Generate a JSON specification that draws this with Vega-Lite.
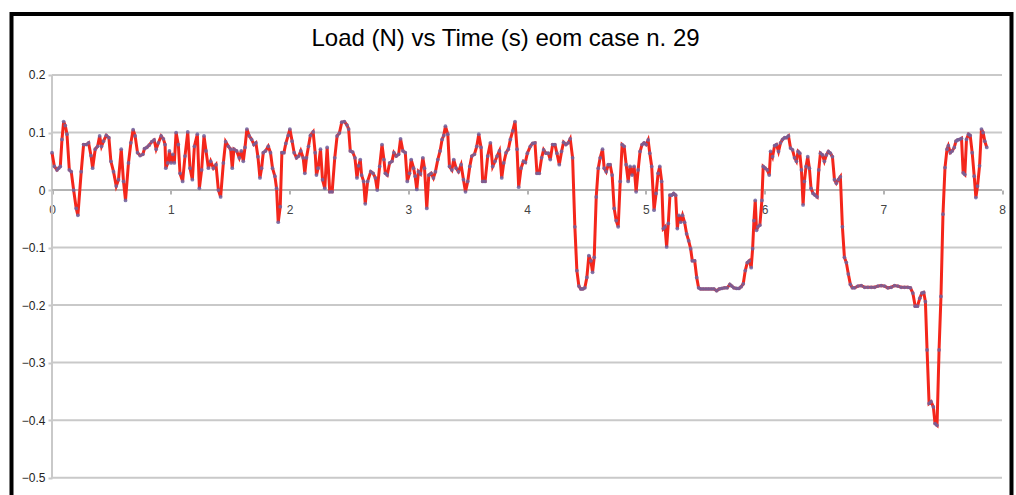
{
  "$schema": "https://vega.github.io/schema/vega-lite/v6.json",
  "autosize": "none",
  "width": 1000,
  "height": 483,
  "padding": {"left": 11.5, "top": 14, "right": 4.5, "bottom": -2},
  "background": "#ffffff",
  "title": {
    "text": "Load (N) vs Time (s) eom case n. 29",
    "font": "Liberation Sans",
    "fontSize": 24,
    "fontWeight": "normal",
    "color": "#000000",
    "anchor": "middle",
    "offset": -37,
    "dx": -6
  },
  "config": {
    "view": {"stroke": "#000000", "strokeWidth": 4},
    "font": "Liberation Sans"
  },
  "datasets": {
    "grid": [{"g": 0.2}, {"g": 0.1}, {"g": -0.1}, {"g": -0.2}, {"g": -0.3}, {"g": -0.4}, {"g": -0.5}],
    "load": [
      {"t":0,"v":0.065},{"t":0.02,"v":0.041},{"t":0.042,"v":0.035},{"t":0.056,"v":0.038},{"t":0.07,"v":0.041},{"t":0.084,"v":0.088},{"t":0.098,"v":0.119},{"t":0.112,"v":0.112},{"t":0.126,"v":0.097},{"t":0.146,"v":0.035},{"t":0.162,"v":0.032},{"t":0.182,"v":0.0},{"t":0.204,"v":-0.032},{"t":0.218,"v":-0.044},{"t":0.246,"v":0.032},{"t":0.266,"v":0.079},{"t":0.289,"v":0.079},{"t":0.308,"v":0.082},{"t":0.328,"v":0.06},{"t":0.342,"v":0.038},{"t":0.364,"v":0.071},{"t":0.384,"v":0.076},{"t":0.401,"v":0.094},{"t":0.417,"v":0.076},{"t":0.434,"v":0.085},{"t":0.457,"v":0.095},{"t":0.479,"v":0.091},{"t":0.496,"v":0.05},{"t":0.518,"v":0.032},{"t":0.541,"v":0.007},{"t":0.56,"v":0.018},{"t":0.583,"v":0.071},{"t":0.602,"v":0.015},{"t":0.619,"v":-0.018},{"t":0.644,"v":0.047},{"t":0.664,"v":0.082},{"t":0.683,"v":0.105},{"t":0.7,"v":0.094},{"t":0.72,"v":0.065},{"t":0.742,"v":0.06},{"t":0.765,"v":0.062},{"t":0.779,"v":0.072},{"t":0.798,"v":0.074},{"t":0.818,"v":0.078},{"t":0.84,"v":0.084},{"t":0.86,"v":0.087},{"t":0.877,"v":0.071},{"t":0.896,"v":0.082},{"t":0.919,"v":0.094},{"t":0.938,"v":0.089},{"t":0.952,"v":0.079},{"t":0.958,"v":0.038},{"t":0.975,"v":0.047},{"t":0.989,"v":0.068},{"t":1.003,"v":0.047},{"t":1.017,"v":0.062},{"t":1.03,"v":0.047},{"t":1.045,"v":0.1},{"t":1.064,"v":0.079},{"t":1.078,"v":0.029},{"t":1.1,"v":0.015},{"t":1.12,"v":0.059},{"t":1.143,"v":0.101},{"t":1.162,"v":0.038},{"t":1.182,"v":0.018},{"t":1.199,"v":0.076},{"t":1.224,"v":0.097},{"t":1.241,"v":0.003},{"t":1.26,"v":0.035},{"t":1.28,"v":0.094},{"t":1.297,"v":0.068},{"t":1.317,"v":0.038},{"t":1.336,"v":0.05},{"t":1.359,"v":0.038},{"t":1.381,"v":0.044},{"t":1.401,"v":0.0},{"t":1.42,"v":-0.012},{"t":1.443,"v":0.047},{"t":1.462,"v":0.084},{"t":1.485,"v":0.076},{"t":1.504,"v":0.071},{"t":1.518,"v":0.038},{"t":1.532,"v":0.071},{"t":1.555,"v":0.068},{"t":1.577,"v":0.056},{"t":1.594,"v":0.068},{"t":1.611,"v":0.05},{"t":1.625,"v":0.074},{"t":1.641,"v":0.106},{"t":1.661,"v":0.094},{"t":1.681,"v":0.088},{"t":1.7,"v":0.079},{"t":1.717,"v":0.082},{"t":1.734,"v":0.058},{"t":1.751,"v":0.021},{"t":1.765,"v":0.038},{"t":1.779,"v":0.065},{"t":1.798,"v":0.068},{"t":1.821,"v":0.076},{"t":1.84,"v":0.065},{"t":1.857,"v":0.038},{"t":1.877,"v":0.024},{"t":1.891,"v":0.003},{"t":1.905,"v":-0.056},{"t":1.922,"v":-0.029},{"t":1.936,"v":0.065},{"t":1.953,"v":0.065},{"t":1.969,"v":0.081},{"t":1.989,"v":0.095},{"t":2.003,"v":0.106},{"t":2.022,"v":0.085},{"t":2.039,"v":0.065},{"t":2.059,"v":0.056},{"t":2.078,"v":0.059},{"t":2.095,"v":0.068},{"t":2.115,"v":0.056},{"t":2.129,"v":0.029},{"t":2.143,"v":0.056},{"t":2.16,"v":0.076},{"t":2.176,"v":0.095},{"t":2.199,"v":0.101},{"t":2.216,"v":0.065},{"t":2.227,"v":0.026},{"t":2.241,"v":0.038},{"t":2.261,"v":0.071},{"t":2.278,"v":0.018},{"t":2.297,"v":0.003},{"t":2.317,"v":0.074},{"t":2.339,"v":-0.003},{"t":2.359,"v":-0.003},{"t":2.381,"v":0.056},{"t":2.401,"v":0.094},
      {"t":2.42,"v":0.099},{"t":2.44,"v":0.118},{"t":2.462,"v":0.119},{"t":2.484,"v":0.113},{"t":2.498,"v":0.106},{"t":2.512,"v":0.068},{"t":2.532,"v":0.066},{"t":2.551,"v":0.056},{"t":2.568,"v":0.021},{"t":2.582,"v":0.042},{"t":2.596,"v":0.053},{"t":2.607,"v":0.026},{"t":2.624,"v":0.015},{"t":2.638,"v":-0.024},{"t":2.658,"v":0.015},
      {"t":2.684,"v":0.032},{"t":2.704,"v":0.029},{"t":2.723,"v":0.021},{"t":2.739,"v":0.0},{"t":2.759,"v":0.041},{"t":2.779,"v":0.079},{"t":2.795,"v":0.053},{"t":2.807,"v":0.029},{"t":2.823,"v":0.026},{"t":2.843,"v":0.047},{"t":2.863,"v":0.05},{"t":2.879,"v":0.065},{"t":2.899,"v":0.059},{"t":2.919,"v":0.062},{"t":2.935,"v":0.089},{"t":2.955,"v":0.068},{"t":2.975,"v":0.065},{"t":2.992,"v":0.015},{"t":3.011,"v":0.029},{"t":3.025,"v":0.053},{"t":3.045,"v":0.038},{"t":3.058,"v":0.024},{"t":3.072,"v":0.001},{"t":3.086,"v":0.032},{"t":3.103,"v":0.028},{"t":3.123,"v":0.056},{"t":3.137,"v":0.038},{"t":3.156,"v":-0.032},{"t":3.173,"v":0.026},{"t":3.193,"v":0.029},{"t":3.212,"v":0.021},{"t":3.229,"v":0.032},{"t":3.249,"v":0.053},{"t":3.268,"v":0.068},{"t":3.285,"v":0.088},{"t":3.299,"v":0.095},{"t":3.313,"v":0.111},{"t":3.333,"v":0.097},{"t":3.347,"v":0.041},{"t":3.367,"v":0.035},{"t":3.383,"v":0.053},{"t":3.403,"v":0.038},{"t":3.423,"v":0.032},{"t":3.445,"v":0.044},{"t":3.465,"v":0.018},{"t":3.482,"v":-0.003},{"t":3.501,"v":0.015},{"t":3.518,"v":0.041},{"t":3.535,"v":0.059},{"t":3.557,"v":0.062},{"t":3.577,"v":0.076},{"t":3.594,"v":0.097},{"t":3.613,"v":0.074},{"t":3.627,"v":0.015},{"t":3.647,"v":0.015},{"t":3.669,"v":0.059},{"t":3.692,"v":0.082},{"t":3.711,"v":0.041},{"t":3.731,"v":0.05},{"t":3.748,"v":0.059},{"t":3.768,"v":0.068},{"t":3.787,"v":0.021},{"t":3.804,"v":0.047},{"t":3.824,"v":0.065},{"t":3.843,"v":0.071},{"t":3.86,"v":0.088},{"t":3.88,"v":0.103},{"t":3.899,"v":0.119},{"t":3.916,"v":0.071},{"t":3.93,"v":0.005},{"t":3.95,"v":0.038},{"t":3.97,"v":0.05},{"t":3.986,"v":0.048},
      {"t":4.003,"v":0.064},{"t":4.028,"v":0.076},{"t":4.047,"v":0.081},{"t":4.067,"v":0.082},{"t":4.084,"v":0.029},{"t":4.103,"v":0.029},{"t":4.123,"v":0.056},{"t":4.14,"v":0.07},{"t":4.159,"v":0.064},{"t":4.179,"v":0.064},{"t":4.196,"v":0.053},{"t":4.216,"v":0.079},{"t":4.235,"v":0.079},{"t":4.252,"v":0.064},{"t":4.272,"v":0.044},{"t":4.291,"v":0.067},{"t":4.308,"v":0.083},{"t":4.328,"v":0.079},{"t":4.347,"v":0.082},{"t":4.364,"v":0.089},{"t":4.384,"v":0.056},{"t":4.403,"v":-0.064},{"t":4.42,"v":-0.14},{"t":4.437,"v":-0.167},{"t":4.453,"v":-0.172},{"t":4.47,"v":-0.172},{"t":4.487,"v":-0.17},{"t":4.504,"v":-0.152},{"t":4.521,"v":-0.114},{"t":4.538,"v":-0.123},{"t":4.552,"v":-0.143},{"t":4.566,"v":-0.117},{"t":4.583,"v":-0.012},{"t":4.6,"v":0.038},{"t":4.616,"v":0.056},{"t":4.636,"v":0.071},{"t":4.65,"v":0.038},{"t":4.667,"v":0.032},{"t":4.684,"v":0.044},{"t":4.7,"v":0.044},{"t":4.717,"v":0.026},{"t":4.734,"v":-0.032},{"t":4.751,"v":-0.053},{"t":4.768,"v":-0.064},{"t":4.785,"v":0.015},{"t":4.801,"v":0.079},{"t":4.818,"v":0.076},{"t":4.835,"v":0.044},{"t":4.852,"v":0.015},{"t":4.868,"v":0.041},{"t":4.885,"v":0.026},{"t":4.902,"v":0.041},{"t":4.919,"v":-0.003},{"t":4.936,"v":0.035},{"t":4.952,"v":0.067},{"t":4.969,"v":0.079},{"t":4.986,"v":0.082},{"t":5.003,"v":0.079},{"t":5.02,"v":0.087},{"t":5.034,"v":0.064},{"t":5.05,"v":0.041},{"t":5.07,"v":-0.035},{"t":5.087,"v":-0.006},{"t":5.104,"v":0.029},{"t":5.118,"v":0.041},{"t":5.134,"v":0.015},{"t":5.148,"v":-0.067},{"t":5.162,"v":-0.064},{"t":5.176,"v":-0.099},{"t":5.19,"v":-0.058},{"t":5.204,"v":-0.009},{"t":5.218,"v":-0.009},{"t":5.235,"v":-0.006},{"t":5.252,"v":-0.009},{"t":5.266,"v":-0.067},{"t":5.28,"v":-0.044},{"t":5.294,"v":-0.056},{"t":5.31,"v":-0.044},{"t":5.327,"v":-0.056},{"t":5.344,"v":-0.076},{"t":5.361,"v":-0.088},{"t":5.378,"v":-0.102},{"t":5.392,"v":-0.123},
      {"t":5.412,"v":-0.123},{"t":5.429,"v":-0.152},{"t":5.445,"v":-0.17},{"t":5.462,"v":-0.172},{"t":5.484,"v":-0.172},{"t":5.507,"v":-0.172},{"t":5.529,"v":-0.172},{"t":5.552,"v":-0.172},{"t":5.574,"v":-0.172},{"t":5.597,"v":-0.175},{"t":5.619,"v":-0.172},{"t":5.641,"v":-0.171},{"t":5.664,"v":-0.17},{"t":5.686,"v":-0.17},{"t":5.708,"v":-0.164},{"t":5.725,"v":-0.167},{"t":5.742,"v":-0.17},{"t":5.765,"v":-0.171},{"t":5.785,"v":-0.171},{"t":5.804,"v":-0.168},{"t":5.821,"v":-0.163},{"t":5.838,"v":-0.14},{"t":5.855,"v":-0.126},{"t":5.872,"v":-0.123},{"t":5.888,"v":-0.135},{"t":5.9,"v":-0.102},{"t":5.911,"v":-0.053},{"t":5.922,"v":-0.018},{"t":5.933,"v":-0.07},{"t":5.944,"v":-0.064},{"t":5.961,"v":-0.061},{"t":5.978,"v":-0.018},{"t":5.989,"v":0.041},{"t":6.006,"v":0.038},{"t":6.023,"v":0.035},{"t":6.04,"v":0.026},{"t":6.051,"v":0.067},{"t":6.068,"v":0.058},{"t":6.085,"v":0.077},{"t":6.101,"v":0.079},{"t":6.118,"v":0.067},{"t":6.135,"v":0.082},{"t":6.152,"v":0.088},{"t":6.169,"v":0.091},{"t":6.185,"v":0.091},{"t":6.202,"v":0.094},{"t":6.219,"v":0.073},{"t":6.236,"v":0.07},{"t":6.253,"v":0.056},{"t":6.269,"v":0.05},{"t":6.283,"v":0.067},{"t":6.297,"v":0.064},{"t":6.311,"v":0.035},{"t":6.325,"v":-0.026},{"t":6.336,"v":0.015},{"t":6.35,"v":0.041},{"t":6.364,"v":0.058},{"t":6.378,"v":0.038},{"t":6.392,"v":0.003},{"t":6.409,"v":-0.006},{"t":6.426,"v":-0.009},{"t":6.443,"v":-0.012},{"t":6.457,"v":0.035},{"t":6.471,"v":0.064},{"t":6.488,"v":0.061},{"t":6.504,"v":0.05},{"t":6.521,"v":0.061},{"t":6.538,"v":0.067},{"t":6.555,"v":0.064},{"t":6.572,"v":0.058},{"t":6.589,"v":0.018},{"t":6.605,"v":0.012},{"t":6.622,"v":0.018},{"t":6.639,"v":0.023},{"t":6.656,"v":-0.064},{"t":6.673,"v":-0.117},{"t":6.689,"v":-0.126},{"t":6.706,"v":-0.146},{"t":6.723,"v":-0.164},{"t":6.74,"v":-0.17},
      {"t":6.759,"v":-0.17},{"t":6.787,"v":-0.167},{"t":6.815,"v":-0.166},{"t":6.843,"v":-0.169},{"t":6.871,"v":-0.169},{"t":6.899,"v":-0.169},{"t":6.927,"v":-0.169},{"t":6.955,"v":-0.167},{"t":6.983,"v":-0.166},{"t":7.011,"v":-0.167},{"t":7.039,"v":-0.17},{"t":7.067,"v":-0.169},{"t":7.095,"v":-0.166},{"t":7.123,"v":-0.167},{"t":7.151,"v":-0.169},{"t":7.179,"v":-0.169},{"t":7.207,"v":-0.169},{"t":7.229,"v":-0.17},{"t":7.249,"v":-0.179},{"t":7.269,"v":-0.202},{"t":7.288,"v":-0.202},{"t":7.308,"v":-0.188},{"t":7.325,"v":-0.179},{"t":7.341,"v":-0.178},{"t":7.355,"v":-0.194},{"t":7.369,"v":-0.278},{"t":7.386,"v":-0.371},{"t":7.403,"v":-0.368},{"t":7.422,"v":-0.377},{"t":7.436,"v":-0.406},{"t":7.453,"v":-0.409},{"t":7.47,"v":-0.278},{"t":7.486,"v":-0.185},{"t":7.503,"v":-0.042},{"t":7.52,"v":0.039},{"t":7.537,"v":0.071},{"t":7.548,"v":0.077},{"t":7.565,"v":0.065},{"t":7.581,"v":0.068},{"t":7.598,"v":0.074},{"t":7.612,"v":0.085},{"t":7.626,"v":0.087},{"t":7.643,"v":0.088},{"t":7.659,"v":0.09},{"t":7.673,"v":0.03},{"t":7.687,"v":0.027},{"t":7.701,"v":0.088},{"t":7.718,"v":0.097},{"t":7.732,"v":0.095},{"t":7.749,"v":0.065},{"t":7.766,"v":0.024},{"t":7.78,"v":-0.013},{"t":7.794,"v":0.007},{"t":7.811,"v":0.042},{"t":7.827,"v":0.106},{"t":7.841,"v":0.1},{"t":7.855,"v":0.085},{"t":7.872,"v":0.074}
    ]
  },
  "layer": [
    {
      "data": {"name": "grid"},
      "mark": {"type": "rule", "color": "#c9c9c9", "strokeWidth": 2},
      "encoding": {
        "y": {"field": "g", "type": "quantitative"},
        "x": {"datum": 0, "type": "quantitative"},
        "x2": {"datum": 8}
      }
    },
    {
      "data": {"name": "grid"},
      "mark": {"type": "rule", "color": "#c9c9c9", "strokeWidth": 2},
      "encoding": {
        "x": {"datum": 0, "type": "quantitative"},
        "y": {"datum": -0.5, "type": "quantitative"},
        "y2": {"datum": 0.2}
      }
    },
    {
      "data": {"name": "grid"},
      "mark": {"type": "rule", "color": "#b3b3b3", "strokeWidth": 2},
      "encoding": {
        "y": {"datum": 0, "type": "quantitative"},
        "x": {"datum": 0, "type": "quantitative"},
        "x2": {"datum": 8}
      }
    },
    {
      "data": {"name": "load"},
      "mark": {"type": "line", "color": "#f4261b", "strokeWidth": 3, "interpolate": "linear"},
      "encoding": {
        "x": {
          "field": "t", "type": "quantitative", "title": null,
          "scale": {"domain": [-0.3411, 8.08], "nice": false, "zero": false},
          "axis": {
            "orient": "bottom", "offset": -307, "values": [0, 1, 2, 3, 4, 5, 6, 7, 8],
            "format": "d", "domain": false, "grid": false,
            "tickSize": 4, "tickColor": "#9a9a9a", "tickWidth": 1.5,
            "labelFontSize": 12, "labelColor": "#444444", "labelPadding": 10,
            "labelFlush": false, "labelOverlap": false, "labelFont": "Liberation Sans"
          }
        },
        "y": {
          "field": "v", "type": "quantitative", "title": null,
          "scale": {"domain": [-0.5336, 0.306], "nice": false, "zero": false},
          "axis": {
            "orient": "left", "offset": -40.5, "values": [0.2, 0.1, 0, -0.1, -0.2, -0.3, -0.4, -0.5],
            "format": "~g", "domain": false, "grid": false,
            "tickSize": 4, "tickColor": "#c9c9c9", "tickWidth": 2,
            "labelFontSize": 12, "labelColor": "#222222", "labelPadding": 3,
            "labelFlush": false, "labelOverlap": false, "labelFont": "Liberation Sans"
          }
        }
      }
    },
    {
      "data": {"name": "load"},
      "mark": {"type": "circle", "color": "#6f64a0", "size": 14, "opacity": 0.85},
      "encoding": {
        "x": {"field": "t", "type": "quantitative"},
        "y": {"field": "v", "type": "quantitative"}
      }
    }
  ]
}
